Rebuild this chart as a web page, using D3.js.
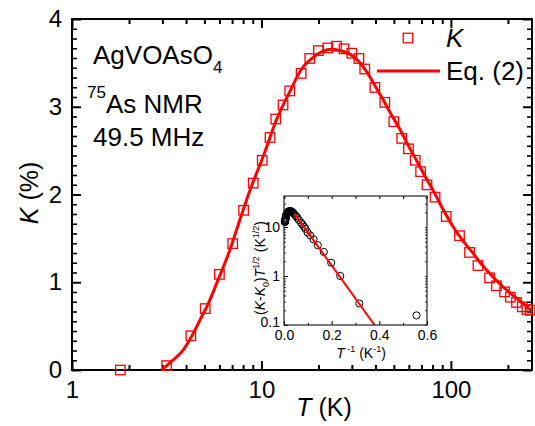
<!DOCTYPE html>
<html>
<head>
<meta charset="utf-8">
<script src="https://cdn.jsdelivr.net/npm/d3@7"></script>
<style>
  html, body { margin: 0; padding: 0; background: #fff; }
  svg { display: block; font-family: "Liberation Sans", Arial, sans-serif; }
</style>
</head>
<body>
<svg id="chart" width="535" height="426"></svg>
<script>
// 75As NMR Knight shift K(T) of AgVOAsO4 at 49.5 MHz
const shiftTemps  = [1.8, 3.16, 4.24, 5.05, 6.0, 7.05, 8.05, 9.05, 10.1, 11.1, 11.9, 13.0, 14.1, 16.2, 18.0, 20.0,
                     22.4, 24.9, 27.3, 30.0, 32.7, 35.1, 39.7, 44.8, 50.0, 55.0, 59.7, 64.8, 69.2, 74.8, 82.5,
                     94.5, 111, 125.5, 139, 160, 174, 192, 206, 222, 238, 252, 262];
const shiftValues = [0.0, 0.05, 0.39, 0.70, 1.09, 1.44, 1.82, 2.13, 2.39, 2.65, 2.86, 3.02, 3.18, 3.38, 3.55, 3.64,
                     3.67, 3.69, 3.66, 3.61, 3.55, 3.43, 3.22, 3.05, 2.83, 2.64, 2.52, 2.39, 2.26, 2.11, 1.97,
                     1.75, 1.53, 1.34, 1.19, 1.05, 0.96, 0.89, 0.83, 0.77, 0.72, 0.69, 0.68];

// Eq. (2) fit curve
const fitTemps  = [2.97, 3.4, 3.87, 4.3, 4.74, 5.3, 5.81, 6.82, 7.69, 8.71, 10.2, 12.0, 14.1, 16.3, 18.7, 21.0,
                   23.4, 26.0, 29.3, 32.5, 35.9, 39.5, 43.9, 48.5, 53.9, 59.5, 65.8, 73, 80.9, 91, 103, 115,
                   130, 147, 167, 190, 213, 240, 268];
const fitValues = [0.0, 0.11, 0.23, 0.39, 0.57, 0.78, 0.99, 1.37, 1.71, 2.05, 2.43, 2.85, 3.17, 3.43, 3.56, 3.63,
                   3.655, 3.64, 3.60, 3.52, 3.40, 3.25, 3.08, 2.91, 2.74, 2.56, 2.39, 2.21, 2.04, 1.83, 1.63, 1.48,
                   1.34, 1.19, 1.06, 0.94, 0.85, 0.76, 0.67];

// Inset: (K-K0) T^1/2 versus 1/T
const insetInvT   = [0.556, 0.316, 0.236, 0.198, 0.167, 0.142, 0.124, 0.110, 0.099, 0.090, 0.084, 0.077, 0.071,
                     0.062, 0.056, 0.050, 0.045, 0.040, 0.037, 0.033, 0.031, 0.028, 0.025, 0.022, 0.020, 0.018,
                     0.017, 0.0154, 0.0145, 0.0134, 0.0121, 0.0106, 0.0090, 0.0080, 0.0072, 0.0063, 0.0058,
                     0.0052, 0.0049, 0.0045, 0.0042, 0.0040, 0.0038];
const insetScaled = [0.157, 0.275, 1.0, 1.87, 3.1, 4.25, 5.6, 6.74, 7.7, 9.2, 10.2, 11.3, 12.4,
                     14.0, 15.5, 16.8, 17.9, 19.0, 19.7, 20.4, 20.9, 21.0, 21.0, 21.1, 20.8, 20.4,
                     20.3, 20.1, 19.7, 19.2, 18.9, 18.1, 17.3, 16.2, 15.3, 14.7, 14.1,
                     13.9, 13.5, 13.1, 12.8, 12.7, 12.8];
const insetFitInvT = [0.045, 0.38];
const insetFitY    = [18.3, 0.1];

// Tick labels
const xMajorTicks = [1, 10, 100];
const xMinorTicks = [2, 3, 4, 5, 6, 7, 8, 9, 20, 30, 40, 50, 60, 70, 80, 90, 200];
const yMajorTicks = [0, 1, 2, 3, 4];
const insetXTicks = [0.0, 0.2, 0.4, 0.6];
const insetXTickLabels = ["0.0", "0.2", "0.4", "0.6"];
const insetYTicks = [0.1, 1, 10];
const insetYTickLabels = ["0.1", "1", "10"];

const RED = "#ff0000";
const svg = d3.select("#chart");

// ---------- main panel ----------
const L = 72, R = 532, T = 19, B = 370;
const x = d3.scaleLog().domain([1, 268]).range([L, R]);
const y = d3.scaleLinear().domain([0, 4]).range([B, T]);

const yMinor = [];
for (let i = 0; i < 4; i++) for (let j = 1; j < 9; j++) yMinor.push(i + j / 9);

function styleAxis(g, width) {
  g.select(".domain").remove();
  g.selectAll(".tick line").attr("stroke", "#000").attr("stroke-width", width);
  g.selectAll(".tick text").attr("fill", "#000");
}

// bottom
svg.append("g").attr("transform", `translate(0,${B})`)
  .call(d3.axisBottom(x).tickValues(xMajorTicks).tickSizeInner(-9).tickSizeOuter(0).tickPadding(11)
        .tickFormat(d3.format("d")))
  .call(g => styleAxis(g, 2))
  .selectAll("text").attr("font-size", 24).attr("font-family", "Liberation Sans, Arial, sans-serif");
svg.append("g").attr("transform", `translate(0,${B})`)
  .call(d3.axisBottom(x).tickValues(xMinorTicks).tickSizeInner(-5).tickSizeOuter(0).tickFormat(""))
  .call(g => styleAxis(g, 2));
// top
svg.append("g").attr("transform", `translate(0,${T})`)
  .call(d3.axisTop(x).tickValues(xMajorTicks).tickSizeInner(-9).tickSizeOuter(0).tickFormat(""))
  .call(g => styleAxis(g, 2));
svg.append("g").attr("transform", `translate(0,${T})`)
  .call(d3.axisTop(x).tickValues(xMinorTicks).tickSizeInner(-5).tickSizeOuter(0).tickFormat(""))
  .call(g => styleAxis(g, 2));
// left
svg.append("g").attr("transform", `translate(${L},0)`)
  .call(d3.axisLeft(y).tickValues(yMajorTicks).tickSizeInner(-9).tickSizeOuter(0).tickPadding(10)
        .tickFormat(d3.format("d")))
  .call(g => styleAxis(g, 2))
  .selectAll("text").attr("font-size", 24).attr("font-family", "Liberation Sans, Arial, sans-serif");
svg.append("g").attr("transform", `translate(${L},0)`)
  .call(d3.axisLeft(y).tickValues(yMinor).tickSizeInner(-5).tickSizeOuter(0).tickFormat(""))
  .call(g => styleAxis(g, 1.6));
// right
svg.append("g").attr("transform", `translate(${R},0)`)
  .call(d3.axisRight(y).tickValues(yMajorTicks).tickSizeInner(-9).tickSizeOuter(0).tickFormat(""))
  .call(g => styleAxis(g, 2));
svg.append("g").attr("transform", `translate(${R},0)`)
  .call(d3.axisRight(y).tickValues(yMinor).tickSizeInner(-5).tickSizeOuter(0).tickFormat(""))
  .call(g => styleAxis(g, 1.6));

svg.append("rect").attr("x", L).attr("y", T).attr("width", R - L).attr("height", B - T)
  .attr("fill", "none").attr("stroke", "#000").attr("stroke-width", 2);

// axis titles
svg.append("text").attr("transform", "translate(38,193) rotate(-90)")
  .attr("text-anchor", "middle").attr("font-size", 25)
  .call(t => {
    t.append("tspan").attr("font-style", "italic").text("K");
    t.append("tspan").text(" (%)");
  });
svg.append("text").attr("x", 324).attr("y", 416)
  .attr("text-anchor", "middle").attr("font-size", 25)
  .call(t => {
    t.append("tspan").attr("font-style", "italic").text("T");
    t.append("tspan").text(" (K)");
  });

// sample annotation
const ann = svg.append("g").attr("font-size", 26).attr("fill", "#000");
ann.append("text").attr("x", 93).attr("y", 64)
  .call(t => {
    t.append("tspan").text("AgVOAsO");
    t.append("tspan").attr("font-size", 17).attr("dy", 9).text("4");
  });
ann.append("text").attr("x", 87).attr("y", 113)
  .call(t => {
    t.append("tspan").attr("font-size", 17).attr("dy", -15).text("75");
    t.append("tspan").attr("dy", 15).text("As NMR");
  });
ann.append("text").attr("x", 93).attr("y", 146).text("49.5 MHz");

// fit curve
const clipMain = svg.append("clipPath").attr("id", "clipMain");
clipMain.append("rect").attr("x", L).attr("y", T).attr("width", R - L).attr("height", B - T);
const fitLine = d3.line().x(d => x(d[0])).y(d => y(d[1])).curve(d3.curveMonotoneX);
svg.append("path").datum(d3.zip(fitTemps, fitValues))
  .attr("clip-path", "url(#clipMain)")
  .attr("d", fitLine).attr("fill", "none").attr("stroke", RED).attr("stroke-width", 3);

// data squares
const S = 9.5;
svg.append("g").selectAll("rect").data(d3.zip(shiftTemps, shiftValues)).join("rect")
  .attr("x", d => x(d[0]) - S / 2).attr("y", d => y(d[1]) - S / 2)
  .attr("width", S).attr("height", S)
  .attr("fill", "none").attr("stroke", RED).attr("stroke-width", 1.3);

// legend
svg.append("rect").attr("x", 408 - S / 2).attr("y", 38 - S / 2).attr("width", S).attr("height", S)
  .attr("fill", "none").attr("stroke", RED).attr("stroke-width", 1.3);
svg.append("text").attr("x", 446).attr("y", 47).attr("font-size", 26).attr("font-style", "italic").text("K");
svg.append("line").attr("x1", 377).attr("x2", 440).attr("y1", 71).attr("y2", 71)
  .attr("stroke", RED).attr("stroke-width", 3);
svg.append("text").attr("x", 446).attr("y", 80).attr("font-size", 26).text("Eq. (2)");

// ---------- inset ----------
const iL = 284, iR = 427, iT = 196, iB = 325;
const ix = d3.scaleLinear().domain([0, 0.6]).range([iL, iR]);
const iy = d3.scaleLog().domain([0.1, 43]).range([iB, iT]);

svg.append("rect").attr("x", iL).attr("y", iT).attr("width", iR - iL).attr("height", iB - iT)
  .attr("fill", "#fff");

const iyMinor = [];
[0.1, 1, 10].forEach(dec => { for (let k = 2; k <= 9; k++) if (dec * k <= 43) iyMinor.push(dec * k); });
const ixMinor = [0.1, 0.3, 0.5];

const inset = svg.append("g").attr("font-size", 14);
inset.append("g").attr("transform", `translate(0,${iB})`)
  .call(d3.axisBottom(ix).tickValues(insetXTicks).tickSizeInner(-4).tickSizeOuter(0).tickPadding(5)
        .tickFormat((d, i) => insetXTickLabels[i]))
  .call(g => styleAxis(g, 1))
  .selectAll("text").attr("font-size", 14).attr("font-family", "Liberation Sans, Arial, sans-serif");
inset.append("g").attr("transform", `translate(0,${iB})`)
  .call(d3.axisBottom(ix).tickValues(ixMinor).tickSizeInner(-2).tickSizeOuter(0).tickFormat(""))
  .call(g => styleAxis(g, 1));
inset.append("g").attr("transform", `translate(0,${iT})`)
  .call(d3.axisTop(ix).tickValues(insetXTicks.concat(ixMinor)).tickSizeInner(-3).tickSizeOuter(0).tickFormat(""))
  .call(g => styleAxis(g, 1));
inset.append("g").attr("transform", `translate(${iL},0)`)
  .call(d3.axisLeft(iy).tickValues(insetYTicks).tickSizeInner(-4).tickSizeOuter(0).tickPadding(4)
        .tickFormat((d, i) => insetYTickLabels[i]))
  .call(g => styleAxis(g, 1))
  .call(g => g.selectAll("text").filter(d => d === 0.1).attr("dy", "0.1em"))
  .selectAll("text").attr("font-size", 14).attr("font-family", "Liberation Sans, Arial, sans-serif");
inset.append("g").attr("transform", `translate(${iL},0)`)
  .call(d3.axisLeft(iy).tickValues(iyMinor).tickSizeInner(-2).tickSizeOuter(0).tickFormat(""))
  .call(g => styleAxis(g, 0.8));
inset.append("g").attr("transform", `translate(${iR},0)`)
  .call(d3.axisRight(iy).tickValues(insetYTicks.concat(iyMinor)).tickSizeInner(-2).tickSizeOuter(0).tickFormat(""))
  .call(g => styleAxis(g, 0.8));

// inset data circles
inset.append("g").selectAll("circle").data(d3.zip(insetInvT, insetScaled)).join("circle")
  .attr("cx", d => ix(d[0])).attr("cy", d => iy(d[1])).attr("r", 3.6)
  .attr("fill", "none").attr("stroke", "#000").attr("stroke-width", 1);

// inset fit line
const clipInset = svg.append("clipPath").attr("id", "clipInset");
clipInset.append("rect").attr("x", iL).attr("y", iT).attr("width", iR - iL).attr("height", iB - iT);
inset.append("path").datum(d3.zip(insetFitInvT, insetFitY))
  .attr("clip-path", "url(#clipInset)")
  .attr("d", d3.line().x(d => ix(d[0])).y(d => iy(d[1])))
  .attr("fill", "none").attr("stroke", RED).attr("stroke-width", 2);

inset.append("rect").attr("x", iL).attr("y", iT).attr("width", iR - iL).attr("height", iB - iT)
  .attr("fill", "none").attr("stroke", "#222").attr("stroke-width", 1.2);

// inset titles
inset.append("text").attr("x", 361).attr("y", 358).attr("text-anchor", "middle").attr("font-size", 14)
  .call(t => {
    t.append("tspan").attr("font-style", "italic").text("T");
    t.append("tspan").attr("font-size", 9).attr("dy", -6).text(" -1");
    t.append("tspan").attr("dy", 6).text(" (K");
    t.append("tspan").attr("font-size", 9).attr("dy", -6).text("-1");
    t.append("tspan").attr("dy", 6).text(")");
  });
inset.append("text").attr("transform", "translate(265,268) rotate(-90)")
  .attr("text-anchor", "middle").attr("font-size", 14)
  .call(t => {
    t.append("tspan").text("(");
    t.append("tspan").attr("font-style", "italic").text("K");
    t.append("tspan").text("-");
    t.append("tspan").attr("font-style", "italic").text("K");
    t.append("tspan").attr("font-size", 9).attr("dy", 4).text("0");
    t.append("tspan").attr("dy", -4).text(")");
    t.append("tspan").attr("font-style", "italic").text("T");
    t.append("tspan").attr("font-size", 9).attr("dy", -6).text("1/2");
    t.append("tspan").attr("dy", 6).text(" (K");
    t.append("tspan").attr("font-size", 9).attr("dy", -6).text("1/2");
    t.append("tspan").attr("dy", 6).text(")");
  });
</script>
</body>
</html>
